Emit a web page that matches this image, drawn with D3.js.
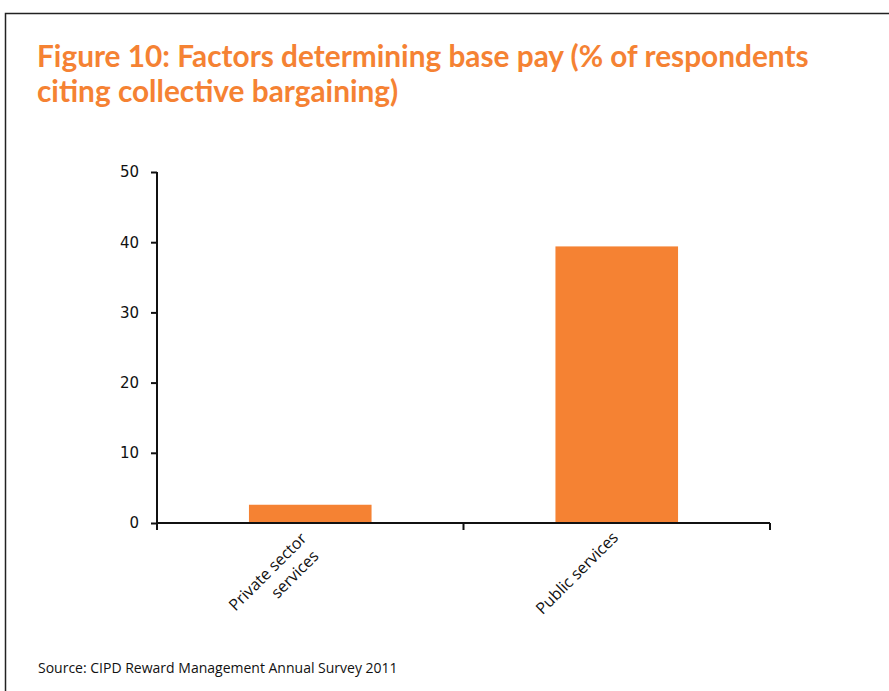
<!DOCTYPE html>
<html><head><meta charset="utf-8">
<script src="https://cdn.jsdelivr.net/npm/d3@7"></script>
<style>body{margin:0;background:#fff}svg{display:block}</style>
</head><body>
<script>
const categories = [["Private sector", "services"], ["Public services"]];
const values = [2.6, 39.4];
const yTicks = [0, 10, 20, 30, 40, 50];
const titleLines = ["Figure 10: Factors determining base pay (% of respondents", "citing collective bargaining)"];
const source = "Source: CIPD Reward Management Annual Survey 2011";

const W = 889, H = 691;
const svg = d3.select("body").append("svg").attr("width", W).attr("height", H);
svg.append("rect").attr("width", W).attr("height", H).attr("fill", "#fff");
// frame
svg.append("path").attr("d", `M5.5,${H} V13.5 H${W}`).attr("fill", "none").attr("stroke", "#222").attr("stroke-width", 1.5);

const orange = "#F58233";
const title = svg.append("text").attr("font-family", "Lato, 'Open Sans', sans-serif").attr("font-weight", "bold")
  .attr("font-size", 29.8).attr("fill", orange);
title.selectAll("tspan").data(titleLines).join("tspan")
  .attr("x", 37).attr("y", (d, i) => 67 + i * 35).text(d => d);

const x0 = 157, x1 = 770, yTop = 172, yBot = 523;
const x = d3.scaleBand().domain(categories.map((d, i) => i)).range([x0, x1]).paddingInner(0.6).paddingOuter(0.3);
const y = d3.scaleLinear().domain([0, 50]).range([yBot, yTop]);

svg.selectAll("rect.bar").data(values).join("rect").attr("class", "bar")
  .attr("x", (d, i) => x(i)).attr("width", x.bandwidth())
  .attr("y", d => y(d)).attr("height", d => y(0) - y(d)).attr("fill", orange);

const font = "'Open Sans', 'DejaVu Sans', sans-serif";
const yAxis = svg.append("g").attr("transform", `translate(${x0},0)`)
  .call(d3.axisLeft(y).tickValues(yTicks).tickSize(6).tickPadding(12).tickFormat(d3.format("d")));
yAxis.selectAll("text").attr("font-family", "'DejaVu Sans', sans-serif").attr("font-size", 15).attr("fill", "#111");
yAxis.selectAll("line,path").attr("stroke", "#111").attr("stroke-width", 2);
yAxis.select("path").attr("d", `M0,${yTop}V${yBot + 7}`);

// x axis with ticks at category boundaries
const xAxisG = svg.append("g");
xAxisG.append("line").attr("x1", x0).attr("x2", x1).attr("y1", yBot).attr("y2", yBot).attr("stroke", "#111").attr("stroke-width", 2);
const step = (x1 - x0) / categories.length;
const bounds = d3.range(categories.length + 1).map(i => x0 + i * step);
xAxisG.selectAll("line.t").data(bounds).join("line").attr("class", "t")
  .attr("x1", d => d).attr("x2", d => d).attr("y1", yBot).attr("y2", yBot + 7)
  .attr("stroke", "#111").attr("stroke-width", 2);

categories.forEach((lines, i) => {
  const cx = x(i) + x.bandwidth() / 2;
  const ex = lines.length > 1 ? cx - 11 : cx - 6;
  const ey = lines.length > 1 ? 531 : 530;
  const g = svg.append("g").attr("transform", `translate(${ex},${ey}) rotate(-45)`);
  const t = g.append("text").attr("font-family", font).attr("font-size", 16).attr("fill", "#111").attr("text-anchor", "end");
  lines.forEach((l, j) => {
    t.append("tspan").attr("x", j ? -4 : 0).attr("y", j * 21 + 12).text(l);
  });
});

svg.append("text").attr("x", 38).attr("y", 673).attr("font-family", font).attr("font-size", 14).attr("fill", "#111").text(source);
</script>
</body></html>
